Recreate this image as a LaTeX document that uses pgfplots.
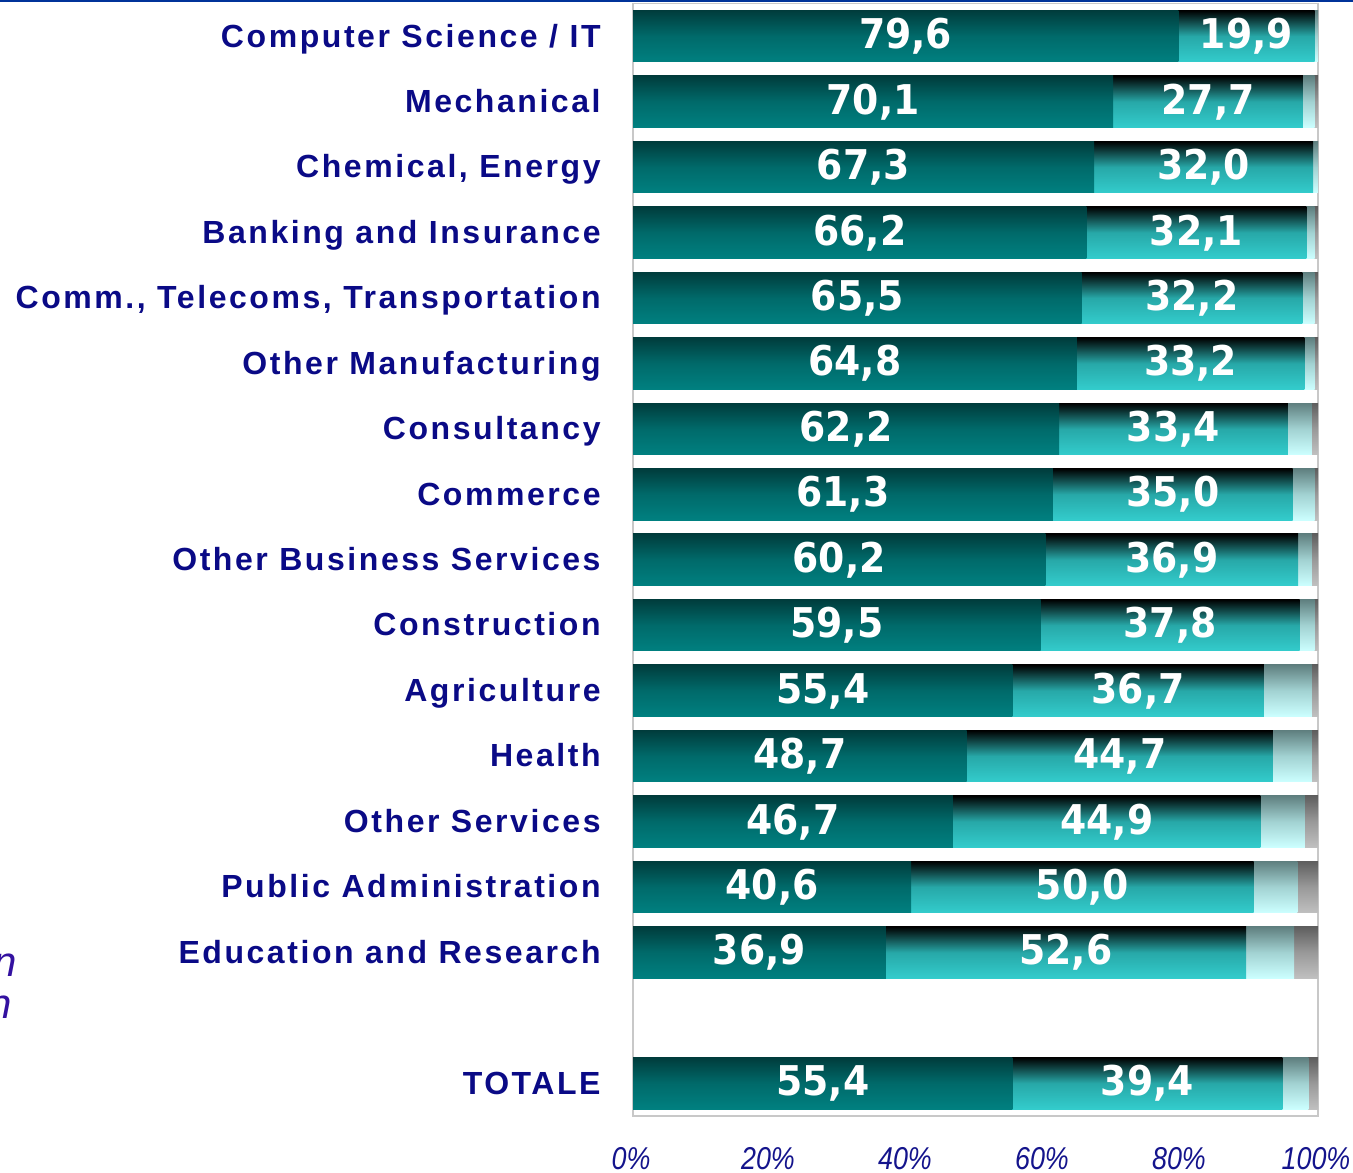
\documentclass[border=0pt]{standalone}
\usepackage{fontspec}
\setmainfont{Liberation Sans}
\newfontfamily\catfont[LetterSpace=8]{Liberation Sans}
\newfontfamily\valfont{DejaVu Sans}
\usepackage{graphicx}
\usepackage{pgfplots}
\usepackage{pgfplotstable}
\pgfplotsset{compat=1.18}

\definecolor{labnavy}{HTML}{0A0A86}
\definecolor{ticknavy}{HTML}{14148C}
\definecolor{leftpurple}{HTML}{3311A0}
\definecolor{topblue}{HTML}{003399}
\definecolor{darkT}{HTML}{003C3C}
\definecolor{darkM}{HTML}{006A6A}
\definecolor{darkB}{HTML}{008080}
\definecolor{lightT}{HTML}{000000}
\definecolor{lightM}{HTML}{27A8A8}
\definecolor{lightB}{HTML}{33CCCC}
\definecolor{cyanT}{HTML}{5F7F7F}
\definecolor{cyanM}{HTML}{A2D2D2}
\definecolor{cyanB}{HTML}{CCFFFF}
\definecolor{grayT}{HTML}{5E5E5E}
\definecolor{grayM}{HTML}{999999}
\definecolor{grayB}{HTML}{C0C0C0}
\definecolor{boxgray}{HTML}{C8C8C8}

% segments of each bar, in per cent
\pgfplotstableread{
pos dark light cyan gray
16 79.6 19.9 0.5 0.0
15 70.1 27.7 1.7 0.5
14 67.3 32.0 0.7 0.0
13 66.2 32.1 1.2 0.5
12 65.5 32.2 1.8 0.5
11 64.8 33.2 1.5 0.5
10 62.2 33.4 3.5 0.9
9  61.3 35.0 3.2 0.5
8  60.2 36.9 2.0 0.9
7  59.5 37.8 2.2 0.5
6  55.4 36.7 7.0 0.9
5  48.7 44.7 5.7 0.9
4  46.7 44.9 6.5 1.9
3  40.6 50.0 6.4 3.0
2  36.9 52.6 7.0 3.5
0  55.4 39.4 3.8 1.4
}\data

\pgfplotsset{
  commonaxis/.style={
    at={(316.5pt,28pt)}, anchor=south west,
    scale only axis, width=342.5pt, height=556.25pt,
    xmin=0, xmax=100, ymin=-0.5, ymax=16.5,
  },
  darkbar/.style={draw=none, top color=darkT, bottom color=darkB, middle color=darkM},
  lightbar/.style={draw=none, top color=lightT, bottom color=lightB, middle color=lightM},
  cyanbar/.style={draw=none, top color=cyanT, bottom color=cyanB, middle color=cyanM},
  graybar/.style={draw=none, top color=grayT, bottom color=grayB, middle color=grayM},
}

\begin{document}
\begin{tikzpicture}
\useasboundingbox (0,0) rectangle (676.5pt,586pt);
\fill[topblue] (0,584.85pt) rectangle (676.5pt,586pt);
\node[anchor=base east, inner sep=0pt, text=leftpurple,
      font=\itshape\fontsize{21}{25}\selectfont] at (8.5pt,97.5pt) {n};
\node[anchor=base east, inner sep=0pt, text=leftpurple,
      font=\itshape\fontsize{21}{25}\selectfont] at (6pt,77pt) {n};

\begin{axis}[commonaxis,
  xbar, bar width=25.75pt, bar shift=0pt,
  axis line style={draw=boxgray, line width=0.6pt},
  major tick length=0pt,
  xtick={0,20,40,60,80,100},
  xticklabels={\scalebox{0.85}[1]{0\%},\scalebox{0.85}[1]{20\%},\scalebox{0.85}[1]{40\%},\scalebox{0.85}[1]{60\%},\scalebox{0.85}[1]{80\%},\scalebox{0.85}[1]{100\%}},
  xticklabel style={font=\itshape\fontsize{15.8}{18}\selectfont, text=ticknavy,
     anchor=north, inner sep=0pt, yshift=-15.5pt, xshift=-1pt},
  ytick={0,2,3,4,5,6,7,8,9,10,11,12,13,14,15,16},
  yticklabels={TOTALE, Education and Research, Public Administration, Other Services,
     Health, Agriculture, Construction, Other Business Services, Commerce, Consultancy,
     Other Manufacturing, {Comm., Telecoms, Transportation}, Banking and Insurance,
     {Chemical, Energy}, Mechanical, Computer Science / IT},
  yticklabel style={font=\catfont\bfseries\fontsize{16}{19}\selectfont, text=labnavy,
     anchor=base east, inner sep=0pt, xshift=-16pt, yshift=-5.4pt},
]
% one bar per plot (so each bar gets its own gradient); segments drawn
% as overlapping cumulative bars, longest first
\pgfplotsinvokeforeach{0,...,15}{
  \addplot[graybar,  restrict expr to domain={\coordindex}{#1:#1}]
    table[x expr=\thisrow{dark}+\thisrow{light}+\thisrow{cyan}+\thisrow{gray}, y=pos]{\data};
  \addplot[cyanbar,  restrict expr to domain={\coordindex}{#1:#1}]
    table[x expr=\thisrow{dark}+\thisrow{light}+\thisrow{cyan}, y=pos]{\data};
  \addplot[lightbar, restrict expr to domain={\coordindex}{#1:#1}]
    table[x expr=\thisrow{dark}+\thisrow{light}, y=pos]{\data};
  \addplot[darkbar,  restrict expr to domain={\coordindex}{#1:#1}]
    table[x=dark, y=pos]{\data};
}
\end{axis}

\begin{axis}[commonaxis, hide axis,
  nodes near coords={\scalebox{0.92}[1]{\pgfmathprintnumber[fixed, fixed zerofill, precision=1, use comma, assume math mode=true]{\pgfplotspointmeta}}},
  every node near coord/.append style={font=\valfont\bfseries\fontsize{20.5}{24}\selectfont,
     text=white, anchor=base, inner sep=0pt, yshift=-6.25pt},
]
\addplot[only marks, mark=*, mark size=0pt, mark options={draw=none, fill=none},
  point meta=\thisrow{dark}]
  table[x expr=\thisrow{dark}/2, y=pos]{\data};
\addplot[only marks, mark=*, mark size=0pt, mark options={draw=none, fill=none},
  point meta=\thisrow{light}]
  table[x expr=\thisrow{dark}+\thisrow{light}/2, y=pos]{\data};
\end{axis}
\end{tikzpicture}
\end{document}
